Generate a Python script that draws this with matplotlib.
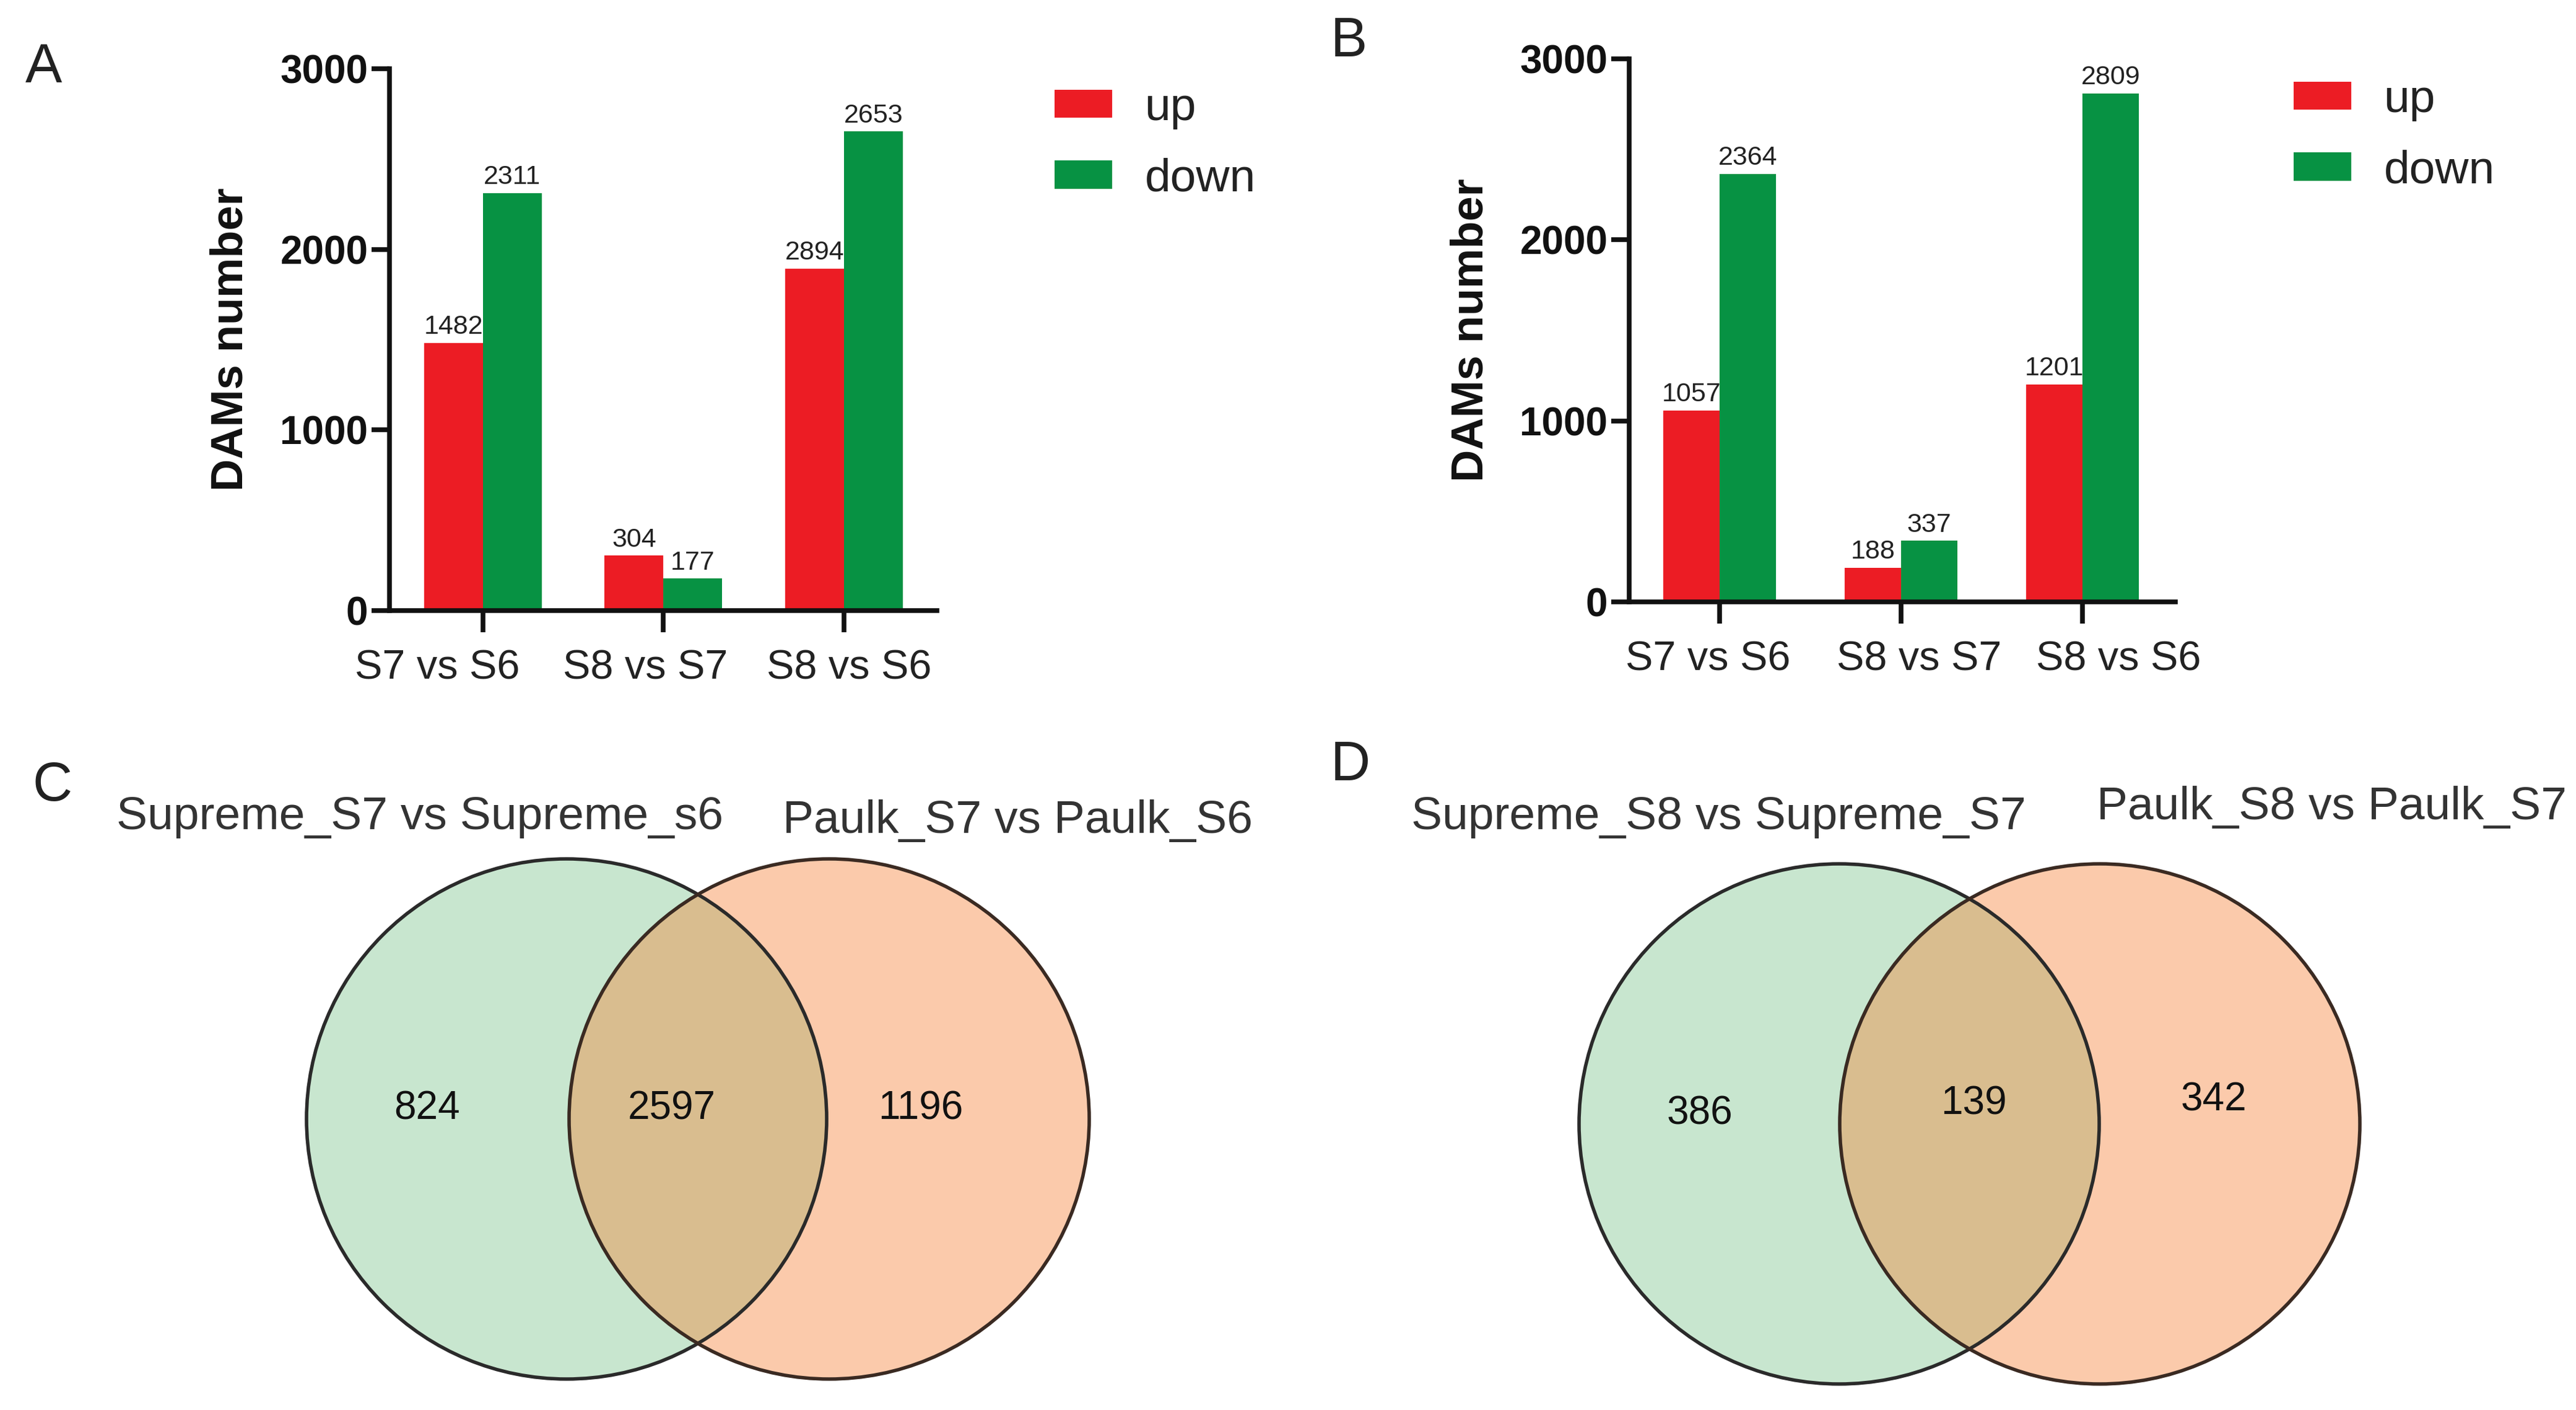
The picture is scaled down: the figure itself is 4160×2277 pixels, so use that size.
import matplotlib
matplotlib.use("Agg")
import matplotlib.pyplot as plt
from matplotlib.patches import Circle

# ---------------- data ----------------
categories = ["S7 vs S6", "S8 vs S7", "S8 vs S6"]

a_up_heights = [1482, 304, 1894]
a_up_labels = ["1482", "304", "2894"]
a_down = [2311, 177, 2653]

b_up = [1057, 188, 1201]
b_down = [2364, 337, 2809]

y_ticks = [0, 1000, 2000, 3000]
series_names = ["up", "down"]

venn_c_names = ["Supreme_S7 vs Supreme_s6", "Paulk_S7 vs Paulk_S6"]
venn_c_counts = [824, 2597, 1196]
venn_d_names = ["Supreme_S8 vs Supreme_S7", "Paulk_S8 vs Paulk_S7"]
venn_d_counts = [386, 139, 342]

# ---------------- style ----------------
RED = "#EC1C24"
GREEN = "#079243"
V_GREEN = "#C8E6CF"
V_ORANGE = "#FBCAAB"
V_OVER = "#D9BD8F"
FONT = ["Liberation Sans", "DejaVu Sans"]
plt.rcParams["font.family"] = FONT

W, H = 4160, 2277
fig = plt.figure(figsize=(W / 100, H / 100), dpi=100)
fig.patch.set_facecolor("white")


def px_axes(left, right, top, bottom):
    return fig.add_axes([left / W, 1 - bottom / H, (right - left) / W, (bottom - top) / H])


def bar_panel(ax, up_h, up_lab, down_h, xlim, width, leg_anchor, label_shift):
    x = list(range(len(categories)))
    bu = ax.bar([i - width / 2 for i in x], up_h, width=width, color=RED, label=series_names[0], zorder=2)
    bd = ax.bar([i + width / 2 for i in x], down_h, width=width, color=GREEN, label=series_names[1], zorder=2)
    ax.bar_label(bu, labels=up_lab, padding=4, fontsize=31, color="#222222")
    ax.bar_label(bd, labels=[str(v) for v in down_h], padding=4, fontsize=31, color="#222222")
    ax.set_xlim(*xlim)
    ax.set_ylim(0, 3000)
    ax.set_yticks(y_ticks)
    ax.set_yticklabels([str(t) for t in y_ticks], fontsize=46, fontweight="bold")
    # major ticks: marks only; minor ticks (slightly shifted, as in the original): labels only
    ax.set_xticks(x)
    ax.set_xticklabels([""] * len(x))
    ax.set_xticks([i + d for i, d in zip(x, label_shift)], minor=True)
    ax.set_xticklabels(categories, minor=True, fontsize=48, color="#222222")
    for s in ["top", "right"]:
        ax.spines[s].set_visible(False)
    for s in ["left", "bottom"]:
        ax.spines[s].set_linewidth(5.5)
        ax.spines[s].set_color("#111111")
    ax.tick_params(axis="y", which="both", length=21, width=5.5, pad=4, colors="#111111")
    ax.tick_params(axis="y", which="minor", length=0)
    ax.tick_params(axis="x", which="major", length=25, width=5.5, pad=20, colors="#111111")
    ax.tick_params(axis="x", which="minor", length=0, pad=45, labelcolor="#222222")
    ax.set_facecolor("none")
    ax.text(-0.29, 0.5, "DAMs number", transform=ax.transAxes, rotation=90,
            ha="center", va="center", fontsize=52, fontweight="bold", color="#111111")
    ax.legend(loc="upper left", bbox_to_anchor=leg_anchor, bbox_transform=fig.transFigure,
              frameon=False, fontsize=54, handlelength=1.24, handleheight=0.56,
              handletextpad=0.7, labelspacing=0.61, borderpad=0, borderaxespad=0,
              labelcolor="#222222")


axA = px_axes(629, 1513, 111, 986)
bar_panel(axA, a_up_heights, a_up_labels, a_down, (-0.518, 2.515), 0.326,
          (1703 / W, 1 - 140 / H), (-0.254, -0.099, 0.027))

axB = px_axes(2631, 3513, 95, 972)
bar_panel(axB, b_up, [str(v) for v in b_up], b_down, (-0.498, 2.512), 0.31,
          (3704 / W, 1 - 127 / H), (-0.065, 0.099, 0.198))

# ---------------- Venn panels & letters (pixel overlay) ----------------
ov = fig.add_axes([0, 0, 1, 1])
ov.set_xlim(0, W)
ov.set_ylim(H, 0)
ov.axis("off")
ov.set_zorder(-1)


def venn(cx1, cx2, cy, r, counts, names, num_pos, title_pos):
    c1 = Circle((cx1, cy), r, facecolor=V_GREEN, edgecolor="none", zorder=1)
    c2 = Circle((cx2, cy), r, facecolor=V_ORANGE, edgecolor="none", zorder=1)
    ov.add_patch(c1)
    ov.add_patch(c2)
    clip = Circle((cx1, cy), r, transform=ov.transData)
    lens = Circle((cx2, cy), r, facecolor=V_OVER, edgecolor="none", zorder=2)
    ov.add_patch(lens)
    lens.set_clip_path(clip)
    ov.add_patch(Circle((cx1, cy), r, facecolor="none", edgecolor="#2a2a2a", lw=4, zorder=3))
    ov.add_patch(Circle((cx2, cy), r, facecolor="none", edgecolor="#3a2a22", lw=4, zorder=3))
    for (px, py), v in zip(num_pos, counts):
        ov.text(px, py, str(v), ha="center", va="center", fontsize=46, color="#111111", zorder=4)
    for (px, py), n in zip(title_pos, names):
        ov.text(px, py, n, ha="center", va="center", fontsize=54, color="#333333", zorder=4)


venn(915, 1339, 1807, 420, venn_c_counts, venn_c_names,
     [(690, 1791), (1085, 1791), (1487, 1791)],
     [(678, 1319), (1643, 1326)])
venn(2970, 3391, 1815, 420, venn_d_counts, venn_d_names,
     [(2745, 1798), (3187, 1783), (3575, 1776)],
     [(2775, 1319), (3765, 1304)])

for lab, (px, py) in zip(["A", "B", "C", "D"], [(70, 110), (2178, 68), (85, 1270), (2181, 1237)]):
    ov.text(px, py, lab, ha="center", va="center", fontsize=64, color="#222222")

fig.savefig("out.png", dpi=100, facecolor="white")
